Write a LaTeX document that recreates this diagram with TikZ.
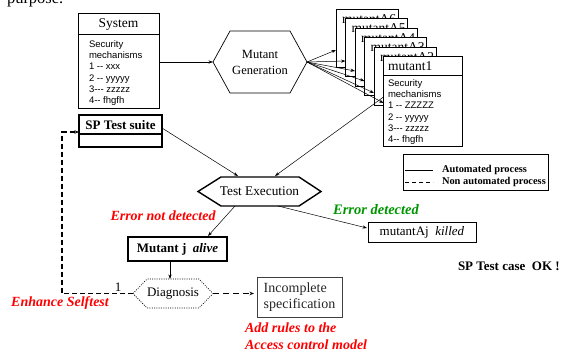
\documentclass[tikz,border=0pt]{standalone}
\usepackage{fontspec}
\setmainfont{Liberation Serif}
\newfontfamily\arial{Liberation Sans}
\usetikzlibrary{arrows.meta,calc}
\definecolor{errred}{RGB}{255,0,0}
\definecolor{errgreen}{RGB}{0,150,0}
\begin{document}
\begin{tikzpicture}[x=1pt,y=-1pt,
  frame/.style={draw, inner sep=0pt, outer sep=0pt, line width=0.8pt},
  thick frame/.style={frame, line width=1.4pt},
  plain/.style={inner sep=0pt, outer sep=0pt},
  conn/.style={-{Stealth[length=4.5pt,width=3.2pt]}, line width=0.5pt},
  dconn/.style={-{Stealth[length=4.5pt,width=3.5pt]}, line width=1.2pt, dash pattern=on 5pt off 3pt},
  small/.style={font=\arial\fontsize{9.5}{11.3}\selectfont, align=left, plain, anchor=north west},
  head/.style={font=\fontsize{13.5}{16}\selectfont, plain},
  redlab/.style={text=errred, font=\bfseries\itshape\fontsize{14}{17}\selectfont, plain, align=left}
]
\path[use as bounding box] (0,0) rectangle (571,353);

% cropped title text
\node[plain, anchor=base west, font=\fontsize{16.5}{18}\selectfont] (title) at (7,3.5) {purpose.};

% System box
\node[frame, minimum width=81pt, minimum height=95pt] (sys) at (118.5,60.5) {};
\draw[line width=0.8pt] ($(sys.north west)+(0,21)$) -- ($(sys.north east)+(0,21)$);
\node[head] (systitle) at ($(sys.north)+(0,11)$) {System};
\node[small] (sysbody) at (89,40.5) {Security\\mechanisms\\1 -- xxx\\2 -- yyyyy\\3--- zzzzz\\4-- fhgfh};

% Mutant generation hexagon
\node[plain, minimum width=94pt, minimum height=62pt, align=center, font=\fontsize{12.5}{16}\selectfont] (mg) at (260,62) {Mutant\\Generation};
\draw[line width=0.7pt] (mg.west) -- ($(mg.north west)+(17,0)$) -- ($(mg.north east)+(-17,0)$) -- (mg.east) -- ($(mg.south east)+(-17,0)$) -- ($(mg.south west)+(17,0)$) -- cycle;
\draw[conn] (sys.east |- mg.west) -- (mg.west);

% stacked mutants
\foreach \i/\n in {0/6,1/5,2/4,3/3,4/2} {
  \node[frame, fill=white, minimum width=62pt, minimum height=58pt] (a\n) at ({367+9.5*\i},{38+9.5*\i}) {};
  \node[head, anchor=west] (la\n) at ($(a\n.north west)+(6,10)$) {mutantA\n};
}
\node[frame, fill=white, minimum width=78.5pt, minimum height=89.5pt] (m1) at (422.75,101.25) {};
\draw[line width=0.8pt] ($(m1.north west)+(0,18.5)$) -- ($(m1.north east)+(0,18.5)$);
\node[head, anchor=west] (m1title) at (388,66) {mutant1};
\node[small] (m1body) at (388,79.5) {Security\\mechanisms\\1 -- ZZZZZ\\2 -- yyyyy\\3--- zzzzz\\4-- fhgfh};

\draw[conn] (mg.east) -- ($(a6.north west)+(0,41)$);
\draw[conn] (mg.east) -- ($(a5.north west)+(0,42.5)$);
\draw[conn] (mg.east) -- ($(a4.north west)+(0,43)$);
\draw[conn] (mg.east) -- ($(a3.north west)+(0,43.5)$);
\draw[conn] (mg.east) -- ($(a2.north west)+(0,46)$);
\draw[conn] (mg.east) -- ($(m1.north west)+(0,46.5)$);

% SP test suite
\node[thick frame, line width=1.2pt, minimum width=83pt, minimum height=32pt] (sp) at (120.5,131) {};
\draw[line width=1.2pt] ($(sp.north west)+(0,19)$) -- ($(sp.north east)+(0,19)$);
\node[plain, font=\bfseries\fontsize{13}{15}\selectfont] (sptitle) at ($(sp.north)+(0,10)$) {SP Test suite};

% Test execution
\node[plain, minimum width=123pt, minimum height=29pt, font=\fontsize{13.3}{15}\selectfont] (te) at (259.5,191.5) {Test Execution};
\draw[line width=1.4pt] (te.west) -- ($(te.north west)+(23,0)$) -- ($(te.north east)+(-22,0)$) -- (te.east) -- ($(te.south east)+(-22,0)$) -- ($(te.south west)+(23,0)$) -- cycle;
\draw[conn] ($(sp.north east)+(0,13)$) -- ($(te.north)+(-21.5,-1)$);
\draw[conn] ($(m1.north west)+(0,40.5)$) -- ($(te.north)+(15.5,-1)$);

% legend
\node[frame, line width=1pt, minimum width=145pt, minimum height=36pt] (leg) at (475.5,172) {};
\coordinate (l1) at (405,170);
\coordinate (l2) at (405,182);
\draw[line width=1pt] (l1) -- ++(28,0);
\draw[line width=1pt, dash pattern=on 4pt off 3pt] (l2) -- ++(28,0);
\node[plain, anchor=west, font=\bfseries\fontsize{10.4}{12}\selectfont] (lt1) at (442,170) {Automated process};
\node[plain, anchor=west, font=\bfseries\fontsize{10.4}{12}\selectfont] (lt2) at (442,182) {Non automated process};

% outcomes
\node[redlab] (end) at (163,216) {Error not detected};
\node[plain, text=errgreen, font=\bfseries\itshape\fontsize{14.5}{17}\selectfont] (ed) at (376,210) {Error detected};

\node[thick frame, minimum width=99pt, minimum height=24pt, font=\bfseries\fontsize{13}{15}\selectfont] (mj) at (177.5,249) {Mutant j \ \textit{alive}};
\node[frame, minimum width=108pt, minimum height=20pt, font=\fontsize{13}{15}\selectfont] (mk) at (422,232) {mutantAj \ \textit{killed}};
\node[plain, anchor=west, font=\bfseries\fontsize{13}{15}\selectfont] (ok) at (458,266) {SP Test case \ OK !};

\draw[conn] ($(te.south)+(-24.5,0)$) -- ($(mj.north)+(30.5,-1)$);
\draw[conn] ($(te.south)+(18.5,0)$) -- ($(mk.west)+(-1,-4)$);

% diagnosis
\node[plain, minimum width=80pt, minimum height=29pt, font=\fontsize{13}{15}\selectfont] (dg) at (173,293.5) {Diagnosis};
\draw[line width=0.7pt, dash pattern=on 1pt off 1.3pt] (dg.west) -- ($(dg.north west)+(14,0)$) -- ($(dg.north east)+(-14,0)$) -- (dg.east) -- ($(dg.south east)+(-14,0)$) -- ($(dg.south west)+(14,0)$) -- cycle;
\coordinate (mjs) at ($(mj.south)+(-7.5,0)$);
\draw[conn] (mjs) -- (mjs |- dg.north);

\node[frame, draw=black!75, minimum width=85pt, minimum height=40pt, align=left, text=black!85, font=\fontsize{14}{16.7}\selectfont] (inc) at (299.5,297) {Incomplete\\specification};
\draw[dconn, line width=1pt, dash pattern=on 6pt off 4pt, shorten >=3pt] (dg.east) -- (dg.east -| inc.west);

\coordinate (lp) at (62,132);
\draw[dconn] (dg.west) -| (lp) -- (lp -| sp.west);
\node[plain, font=\fontsize{13}{15}\selectfont] (one) at (118,287) {1};

\node[redlab] (enh) at (60,303) {Enhance Selftest};
\node[redlab, anchor=north west] (add) at (245,323) {Add rules to the\\Access control model};
\end{tikzpicture}
\end{document}
